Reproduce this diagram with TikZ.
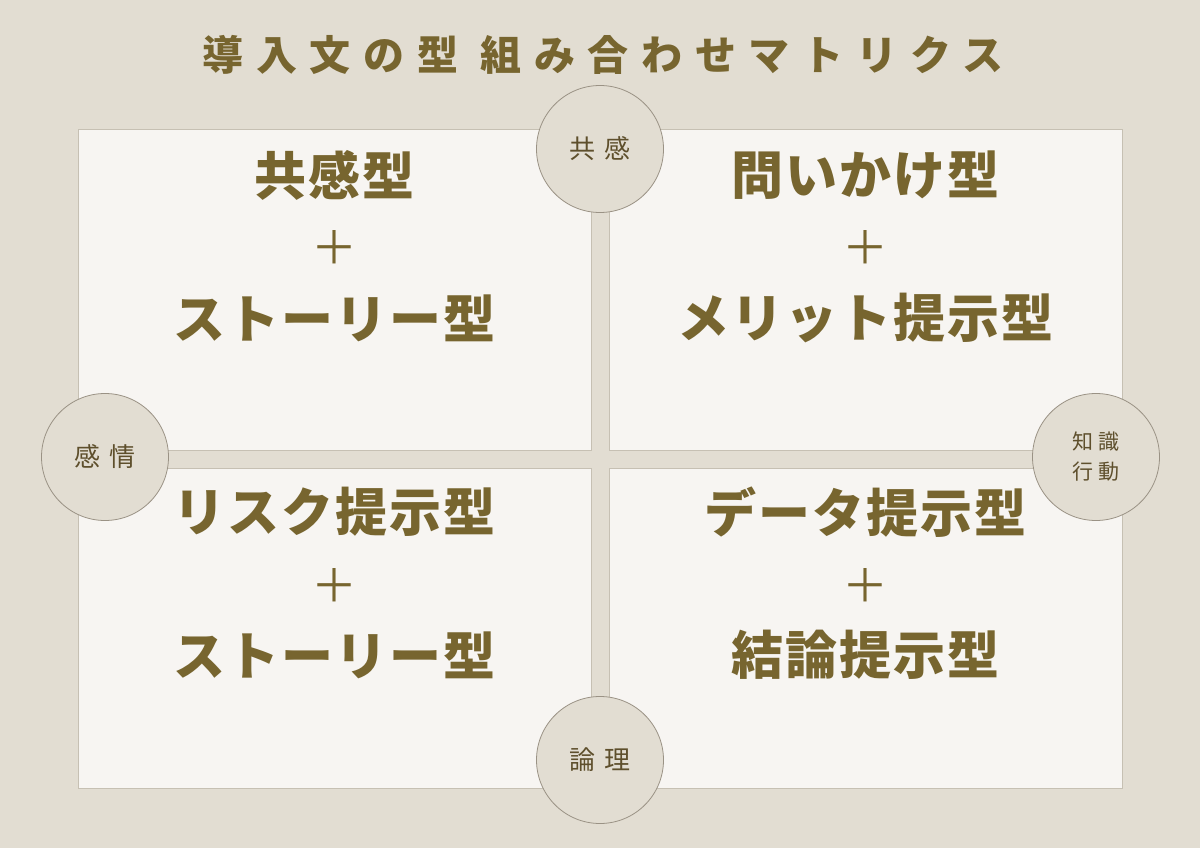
\documentclass[tikz,border=0pt]{standalone}
\usepackage{fontspec}
\newfontfamily\jp{Noto Sans CJK JP}
\newfontfamily\jptitle[LetterSpace=31]{Noto Sans CJK JP}
\newfontfamily\jpbig[LetterSpace=4]{Noto Sans CJK JP}
\newfontfamily\jpaxis[LetterSpace=35]{Noto Sans CJK JP}
\newfontfamily\jpsmall[LetterSpace=25]{Noto Sans CJK JP}
\definecolor{bg}{HTML}{E2DDD2}
\definecolor{panelfill}{HTML}{F7F5F2}
\definecolor{panelline}{HTML}{C6C0B3}
\definecolor{ringline}{HTML}{9A9285}
\definecolor{ink}{HTML}{77652F}
\definecolor{axisink}{HTML}{5E4F2C}

\tikzset{
  panel/.style={draw=panelline, fill=panelfill, line width=1pt,
    minimum width=513pt, minimum height=320pt, inner sep=0pt},
  ring/.style={circle, draw=ringline, fill=bg, line width=0.8pt,
    minimum size=127pt, inner sep=0pt, text=axisink,
    font=\jpaxis\fontsize{26}{30}\selectfont},
  big/.style={text=ink, inner sep=0pt, font=\jpbig\bfseries\fontsize{52}{60}\selectfont},
  plus/.style={text=ink, inner sep=0pt, font=\jp\fontsize{46}{50}\selectfont},
  title/.style={text=ink, inner sep=0pt, font=\jptitle\bfseries\fontsize{41}{48}\selectfont}
}

\begin{document}
\begin{tikzpicture}[x=1pt,y=-1pt]
\fill[bg] (0,0) rectangle (1200,848);
\useasboundingbox (0,0) rectangle (1200,848);
\node[title] (title) at (603,55) {導入文の型 組み合わせマトリクス};
% four panels
\foreach \n/\x/\y in {tl/334.5/290, tr/865.5/290, bl/334.5/628, br/865.5/628}
    \node[panel] (\n) at (\x,\y) {};
% texts in the panels
\foreach \n/\x/\y/\a/\b in {tl/334.5/175/共感型/ストーリー型,
                            tr/865.5/175/問いかけ型/メリット提示型,
                            bl/334.5/512/リスク提示型/ストーリー型,
                            br/865.5/512/データ提示型/結論提示型}
{
    \node[big] (\n-a) at (\x,\y) {\a};
    \node[plus] (\n-p) at (\x,\y+73) {＋};
    \node[big] (\n-b) at (\x,\y+143) {\b};
}
% axis circles
\node[ring] (top) at (600,149) {共感};
\node[ring] (left) at (105,457) {感情};
\node[ring] (bottom) at (600,760) {論理};
\node[ring, align=center, font=\jpsmall\fontsize{21}{30}\selectfont] (right) at (1096,457) {知識\\行動};
\end{tikzpicture}
\end{document}
